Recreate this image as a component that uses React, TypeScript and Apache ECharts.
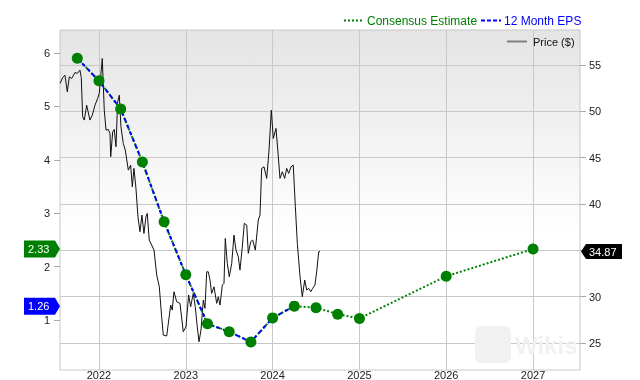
import React, { useEffect, useRef } from 'react';
import * as echarts from 'echarts';

const priceDates = [2021.551, 2021.582, 2021.608, 2021.635, 2021.658, 2021.686, 2021.724, 2021.750, 2021.781, 2021.796, 2021.812, 2021.831, 2021.858, 2021.896, 2021.923, 2021.954, 2021.985, 2022.003, 2022.020, 2022.038, 2022.061, 2022.081, 2022.107, 2022.127, 2022.135, 2022.158, 2022.176, 2022.196, 2022.215, 2022.234, 2022.253, 2022.280, 2022.303, 2022.338, 2022.365, 2022.384, 2022.403, 2022.426, 2022.449, 2022.472, 2022.495, 2022.518, 2022.541, 2022.556, 2022.579, 2022.607, 2022.634, 2022.665, 2022.695, 2022.722, 2022.741, 2022.780, 2022.826, 2022.844, 2022.864, 2022.895, 2022.933, 2022.971, 2023.002, 2023.033, 2023.056, 2023.086, 2023.109, 2023.132, 2023.152, 2023.175, 2023.202, 2023.221, 2023.241, 2023.259, 2023.279, 2023.298, 2023.325, 2023.356, 2023.374, 2023.394, 2023.421, 2023.440, 2023.455, 2023.478, 2023.501, 2023.529, 2023.555, 2023.578, 2023.605, 2023.624, 2023.651, 2023.674, 2023.702, 2023.720, 2023.748, 2023.771, 2023.801, 2023.835, 2023.855, 2023.874, 2023.901, 2023.932, 2023.959, 2023.985, 2024.008, 2024.039, 2024.066, 2024.085, 2024.112, 2024.139, 2024.162, 2024.185, 2024.212, 2024.238, 2024.262, 2024.285, 2024.316, 2024.342, 2024.370, 2024.393, 2024.416, 2024.439, 2024.462, 2024.488, 2024.508, 2024.531, 2024.546];

const priceValues = [53.01, 53.66, 53.91, 52.11, 53.73, 53.55, 54.20, 54.09, 54.45, 53.66, 49.41, 49.06, 50.67, 49.06, 49.59, 50.67, 51.40, 51.94, 53.73, 55.71, 50.13, 47.98, 48.05, 47.62, 45.10, 47.79, 48.05, 46.18, 51.03, 51.75, 48.33, 46.54, 45.82, 43.66, 44.20, 41.86, 43.85, 41.69, 38.62, 37.01, 38.81, 36.83, 38.62, 38.99, 36.11, 35.57, 35.03, 32.34, 31.07, 27.84, 25.86, 25.76, 29.10, 28.56, 30.53, 29.46, 29.28, 26.22, 26.76, 30.18, 28.92, 30.36, 28.92, 26.76, 25.14, 26.40, 29.64, 28.74, 32.69, 32.69, 31.80, 30.36, 31.07, 29.28, 29.99, 29.10, 31.26, 31.44, 36.29, 33.60, 32.15, 33.60, 36.65, 35.03, 34.31, 32.87, 35.39, 37.91, 37.73, 34.68, 35.93, 36.11, 35.03, 38.27, 38.81, 43.85, 44.02, 42.77, 45.82, 50.13, 47.08, 48.16, 45.10, 42.77, 43.48, 42.77, 43.85, 43.31, 44.02, 44.20, 39.70, 35.75, 32.15, 29.99, 31.80, 30.72, 30.90, 30.53, 30.90, 31.26, 32.69, 34.85, 34.87];

const epsDates = [2021.75, 2022.0, 2022.25, 2022.5, 2022.75, 2023.0, 2023.25, 2023.5, 2023.75, 2024.0, 2024.25, 2024.5, 2024.75, 2025.0, 2026.0, 2027.0];
const epsValues = [5.90, 5.48, 4.95, 3.96, 2.84, 1.85, 0.93, 0.78, 0.59, 1.04, 1.26, 1.23, 1.11, 1.03, 1.82, 2.33];
const actualCount = 11;

const yearTicks = [2022, 2023, 2024, 2025, 2026, 2027];
const epsTicks = [1, 2, 3, 4, 5, 6];
const priceTicks = [25, 30, 35, 40, 45, 50, 55];
const priceLabels = [25, 30, 40, 45, 50, 55];

const lastEstimate = 2.33;
const lastActual = 1.26;
const lastPrice = 34.87;

const FONT = '"Liberation Sans", Arial, sans-serif';

export default function App() {
  const ref = useRef<HTMLDivElement>(null);
  useEffect(() => {
    document.body.style.margin = '0';
    const chart = echarts.init(ref.current!, undefined, { renderer: 'svg' });
    const pricePts = priceDates.map((d, i) => [d, priceValues[i]]);
    const epsPts = epsDates.map((d, i) => [d, epsValues[i]]);
    chart.setOption({
      animation: false,
      textStyle: { fontFamily: FONT },
      grid: {
        left: 60, right: 60, top: 30, bottom: 10,
        show: true,
        borderColor: '#c8c8c8',
        borderWidth: 1,
        outerBoundsMode: 'none',
        backgroundColor: {
          type: 'linear', x: 0, y: 0, x2: 0, y2: 1,
          colorStops: [
            { offset: 0, color: '#e4e4e4' },
            { offset: 0.6, color: '#ffffff' },
            { offset: 1, color: '#ffffff' },
          ],
        },
      },
      xAxis: {
        type: 'value',
        min: 2021.551,
        max: 2027.541,
        axisLine: { show: false },
        axisTick: { show: false, customValues: yearTicks },
        axisLabel: {
          customValues: yearTicks, margin: 0, fontSize: 11, lineHeight: 10,
          verticalAlign: 'top', color: '#222', formatter: (v: number) => String(v),
        },
        splitLine: { show: true, lineStyle: { color: '#c8c8c8', width: 1 } },
      },
      yAxis: [
        {
          type: 'value',
          position: 'left',
          min: 0.064,
          max: 6.431,
          axisLine: { show: false },
          axisTick: { show: true, length: 6, customValues: epsTicks, lineStyle: { color: '#aaa' } },
          axisLabel: { customValues: epsTicks, margin: 10, fontSize: 11, color: '#222', formatter: (v: number) => String(v) },
          splitLine: { show: false },
        },
        {
          type: 'value',
          position: 'right',
          min: 22.09,
          max: 58.78,
          axisLine: { show: false },
          axisTick: { show: true, length: 6, customValues: priceTicks, lineStyle: { color: '#aaa' } },
          axisLabel: { customValues: priceLabels, margin: 9, fontSize: 11, color: '#222', formatter: (v: number) => String(v) },
          splitLine: { show: true, lineStyle: { color: '#c8c8c8', width: 1 } },
        },
      ],
      series: [
        {
          name: 'Price ($)',
          type: 'line',
          yAxisIndex: 1,
          data: pricePts,
          symbol: 'none',
          lineStyle: { color: '#111', width: 1 },
          z: 1,
        },
        {
          name: 'Consensus Estimate',
          type: 'line',
          yAxisIndex: 0,
          data: epsPts,
          symbol: 'none',
          lineStyle: { color: '#008000', width: 2, type: [2, 2] },
          z: 2,
        },
        {
          name: '12 Month EPS',
          type: 'line',
          yAxisIndex: 0,
          data: epsPts.slice(0, actualCount),
          symbol: 'none',
          lineStyle: { color: '#0000ff', width: 2, type: [4, 3] },
          z: 3,
        },
        {
          name: 'markers',
          type: 'scatter',
          yAxisIndex: 0,
          data: epsPts,
          symbolSize: 11,
          itemStyle: { color: '#008000', opacity: 1 },
          z: 4,
        },
      ],
    });

    const yEst = chart.convertToPixel({ yAxisIndex: 0 }, lastEstimate) as number;
    const yAct = chart.convertToPixel({ yAxisIndex: 0 }, lastActual) as number;
    const yPrice = chart.convertToPixel({ yAxisIndex: 1 }, lastPrice) as number;

    const leftBadge = (y: number, color: string, label: string) => [
      {
        type: 'polygon',
        shape: { points: [[24, y - 8.5], [55, y - 8.5], [60, y], [55, y + 8.5], [24, y + 8.5]] },
        style: { fill: color },
        z: 10,
      },
      {
        type: 'text',
        x: 28, y,
        style: { text: label, fill: '#fff', font: `11px ${FONT}`, verticalAlign: 'middle' },
        z: 11,
      },
    ];

    chart.setOption({
      graphic: [
        { type: 'rect', shape: { x: 475, y: 326, width: 36, height: 37, r: 6 }, style: { fill: '#f1f1f1' }, z: 0 },
        { type: 'text', x: 515, y: 345, style: { text: 'Wikis', fill: '#f1f1f1', font: `bold 24px ${FONT}`, verticalAlign: 'middle' }, z: 0 },
        { type: 'line', shape: { x1: 344, y1: 20.5, x2: 362, y2: 20.5 }, style: { stroke: '#008000', lineWidth: 2, lineDash: [2, 2] } },
        { type: 'text', x: 367, y: 21, style: { text: 'Consensus Estimate', fill: '#008000', font: `12px ${FONT}`, verticalAlign: 'middle' } },
        { type: 'line', shape: { x1: 481, y1: 20.5, x2: 501, y2: 20.5 }, style: { stroke: '#0000ff', lineWidth: 2, lineDash: [4, 2] } },
        { type: 'text', x: 504, y: 21, style: { text: '12 Month EPS', fill: '#0000ff', font: `12px ${FONT}`, verticalAlign: 'middle' } },
        { type: 'line', shape: { x1: 507, y1: 41.5, x2: 527, y2: 41.5 }, style: { stroke: '#808080', lineWidth: 2 } },
        { type: 'text', x: 533, y: 42, style: { text: 'Price ($)', fill: '#111', font: `11px ${FONT}`, verticalAlign: 'middle' } },
        ...leftBadge(yEst, '#008000', '2.33'),
        ...leftBadge(yAct, '#0000ff', '1.26'),
        {
          type: 'polygon',
          shape: { points: [[581, yPrice], [586, yPrice - 7.5], [622, yPrice - 7.5], [622, yPrice + 7.5], [586, yPrice + 7.5]] },
          style: { fill: '#000' },
          z: 10,
        },
        {
          type: 'text', x: 589, y: yPrice,
          style: { text: '34.87', fill: '#fff', font: `11px ${FONT}`, verticalAlign: 'middle' },
          z: 11,
        },
      ],
    });

    return () => chart.dispose();
  }, []);
  return <div ref={ref} style={{ position: 'fixed', left: 0, top: 0, width: 640, height: 380 }} />;
}
